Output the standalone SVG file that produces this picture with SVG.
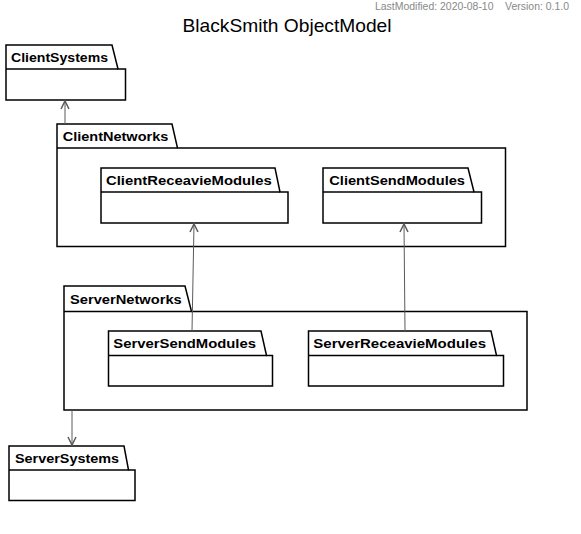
<svg xmlns="http://www.w3.org/2000/svg" width="581" height="534" viewBox="0 0 581 534">
<style>
.pkg{fill:#ffffff;stroke:#000000;stroke-width:1.5}
.lbl{font-family:"Liberation Sans",Arial,sans-serif;font-weight:bold;font-size:13.5px;fill:#000}
.con{stroke:#5a5a5a;stroke-width:1;fill:none}
.head{stroke:#5a5a5a;stroke-width:1.5;fill:none}
</style>
<rect width="581" height="534" fill="#ffffff"/>
<text x="375" y="10" font-family="Liberation Sans,Arial,sans-serif" font-size="10" fill="#888888" textLength="194" lengthAdjust="spacingAndGlyphs" xml:space="preserve">LastModified: 2020-08-10    Version: 0.1.0</text>
<text x="182.5" y="32" font-family="Liberation Sans,Arial,sans-serif" font-size="18.5" fill="#000" textLength="209" lengthAdjust="spacingAndGlyphs">BlackSmith ObjectModel</text>

<g id="ClientNetworks">
<path class="pkg" d="M57,148 V124 H172 L177.5,148 H505.5 V246.5 H57 Z"/>
<line class="pkg" x1="57" y1="148" x2="177.5" y2="148"/>
<text class="lbl" x="62.7" y="140.5" textLength="105.6" lengthAdjust="spacingAndGlyphs">ClientNetworks</text>
</g>
<g id="ClientReceavieModules">
<path class="pkg" d="M101,192 V168 H275 L280,192 H288 V223 H101 Z"/>
<line class="pkg" x1="101" y1="192" x2="280" y2="192"/>
<text class="lbl" x="106" y="184.5" textLength="165.7" lengthAdjust="spacingAndGlyphs">ClientReceavieModules</text>
</g>
<g id="ClientSendModules">
<path class="pkg" d="M323,192 V168 H468 L474,192 H481.5 V223 H323 Z"/>
<line class="pkg" x1="323" y1="192" x2="474" y2="192"/>
<text class="lbl" x="329.3" y="184.5" textLength="135.7" lengthAdjust="spacingAndGlyphs">ClientSendModules</text>
</g>
<g id="ClientSystems">
<path class="pkg" d="M6,69 V45 H112 L118,69 H125.5 V100 H6 Z"/>
<line class="pkg" x1="6" y1="69" x2="118" y2="69"/>
<text class="lbl" x="11" y="61.5" textLength="97" lengthAdjust="spacingAndGlyphs">ClientSystems</text>
</g>
<g id="ServerNetworks">
<path class="pkg" d="M64,311.5 V286 H185 L191.5,311.5 H527 V410 H64 Z"/>
<line class="pkg" x1="64" y1="311.5" x2="191.5" y2="311.5"/>
<text class="lbl" x="70" y="303.5" textLength="111.7" lengthAdjust="spacingAndGlyphs">ServerNetworks</text>
</g>
<g id="ServerSendModules">
<path class="pkg" d="M108.5,355.5 V331 H261 L266.5,355.5 H272.5 V386 H108.5 Z"/>
<line class="pkg" x1="108.5" y1="355.5" x2="266.5" y2="355.5"/>
<text class="lbl" x="113.3" y="348" textLength="142.7" lengthAdjust="spacingAndGlyphs">ServerSendModules</text>
</g>
<g id="ServerReceavieModules">
<path class="pkg" d="M308.5,355.5 V331 H491 L496.5,355.5 H503.5 V386 H308.5 Z"/>
<line class="pkg" x1="308.5" y1="355.5" x2="496.5" y2="355.5"/>
<text class="lbl" x="313.3" y="348" textLength="172.7" lengthAdjust="spacingAndGlyphs">ServerReceavieModules</text>
</g>
<g id="ServerSystems">
<path class="pkg" d="M9,470 V446 H124 L128.5,470 H135 V500.5 H9 Z"/>
<line class="pkg" x1="9" y1="470" x2="128.5" y2="470"/>
<text class="lbl" x="15" y="462.5" textLength="104" lengthAdjust="spacingAndGlyphs">ServerSystems</text>
</g>

<g id="connectors">
<line class="con" x1="65" y1="124" x2="65" y2="101"/>
<path class="head" d="M61,109 L65,101 L69,109"/>
<line class="con" x1="192" y1="331" x2="194" y2="224"/>
<path class="head" d="M190,232 L194,224 L198,232"/>
<line class="con" x1="405" y1="331" x2="404" y2="224"/>
<path class="head" d="M400,232 L404,224 L408,232"/>
<line class="con" x1="72" y1="410" x2="72" y2="445"/>
<path class="head" d="M68,437 L72,445 L76,437"/>
</g>
</svg>
